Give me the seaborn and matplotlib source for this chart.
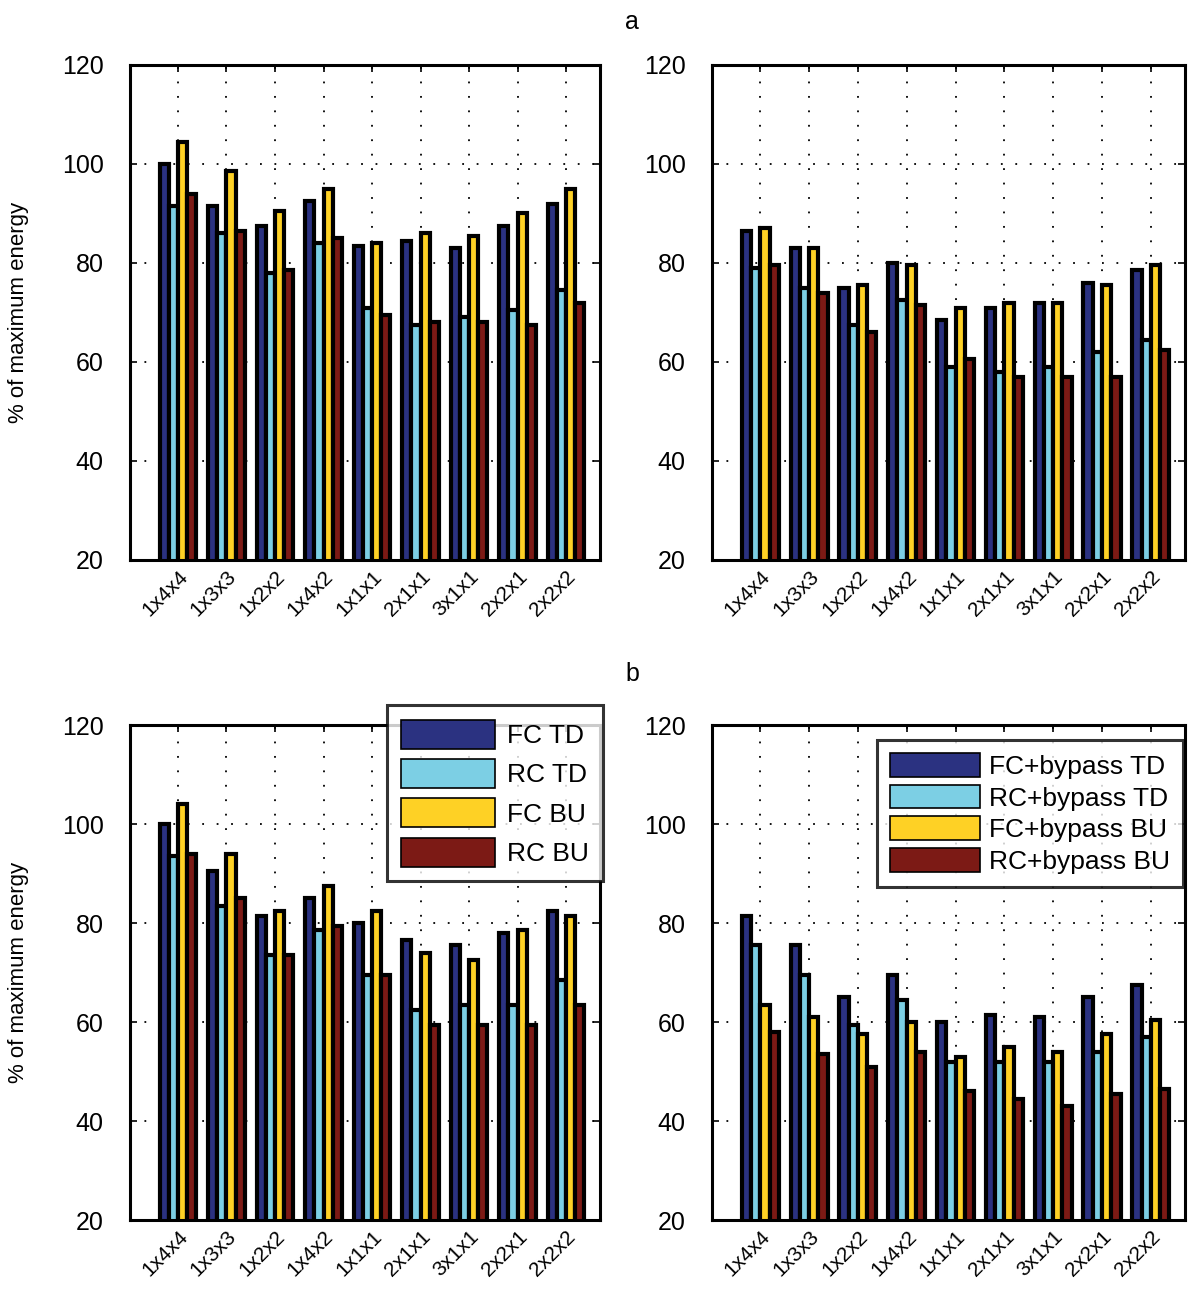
import matplotlib
matplotlib.use("Agg")
import matplotlib.pyplot as plt
import numpy as np
import pandas as pd
import seaborn as sns

configs = ["1x4x4", "1x3x3", "1x2x2", "1x4x2", "1x1x1", "2x1x1", "3x1x1", "2x2x1", "2x2x2"]

# panel a, left
a_fc_td = [100, 91.5, 87.5, 92.5, 83.5, 84.5, 83, 87.5, 92]
a_rc_td = [91.5, 86, 78, 84, 71, 67.5, 69, 70.5, 74.5]
a_fc_bu = [104.5, 98.5, 90.5, 95, 84, 86, 85.5, 90, 95]
a_rc_bu = [94, 86.5, 78.5, 85, 69.5, 68, 68, 67.5, 72]

# panel a, right
a2_fc_td = [86.5, 83, 75, 80, 68.5, 71, 72, 76, 78.5]
a2_rc_td = [79, 75, 67.5, 72.5, 59, 58, 59, 62, 64.5]
a2_fc_bu = [87, 83, 75.5, 79.5, 71, 72, 72, 75.5, 79.5]
a2_rc_bu = [79.5, 74, 66, 71.5, 60.5, 57, 57, 57, 62.5]

# panel b, left
b_fc_td = [100, 90.5, 81.5, 85, 80, 76.5, 75.5, 78, 82.5]
b_rc_td = [93.5, 83.5, 73.5, 78.5, 69.5, 62.5, 63.5, 63.5, 68.5]
b_fc_bu = [104, 94, 82.5, 87.5, 82.5, 74, 72.5, 78.5, 81.5]
b_rc_bu = [94, 85, 73.5, 79.5, 69.5, 59.5, 59.5, 59.5, 63.5]

# panel b, right
b2_fc_td = [81.5, 75.5, 65, 69.5, 60, 61.5, 61, 65, 67.5]
b2_rc_td = [75.5, 69.5, 59.5, 64.5, 52, 52, 52, 54, 57]
b2_fc_bu = [63.5, 61, 57.5, 60, 53, 55, 54, 57.5, 60.5]
b2_rc_bu = [58, 53.5, 51, 54, 46, 44.5, 43, 45.5, 46.5]

labels_plain = ["FC TD", "RC TD", "FC BU", "RC BU"]
labels_bypass = ["FC+bypass TD", "RC+bypass TD", "FC+bypass BU", "RC+bypass BU"]
colors = ["#2b3281", "#7ccfe4", "#fed125", "#7c1a15"]

sns.set_style("white")
plt.rcParams["font.family"] = ["Liberation Sans", "DejaVu Sans"]
plt.rcParams["text.color"] = "black"
plt.rcParams["axes.labelcolor"] = "black"
plt.rcParams["xtick.color"] = "black"
plt.rcParams["ytick.color"] = "black"


def make_df(series, labels):
    rows = []
    for lab, vals in zip(labels, series):
        for c, v in zip(configs, vals):
            rows.append({"config": c, "series": lab, "value": v})
    return pd.DataFrame(rows)


def draw(ax, df, labels, legend_kw=None):
    sns.barplot(data=df, x="config", y="value", hue="series", hue_order=labels,
                order=configs, palette=colors, width=0.76, edgecolor="black",
                linewidth=3.0, saturation=1, legend=False, ax=ax)
    ax.set_ylim(20, 120)
    ax.set_xlim(-0.99, 8.7)
    ax.set_yticks(np.arange(20, 121, 20))
    ax.set_xlabel("")
    ax.set_ylabel("")
    ax.set_xticks(range(len(configs)))
    ax.set_xticklabels(configs, rotation=45, ha="right", rotation_mode="anchor", fontsize=15)
    ax.tick_params(axis="y", labelsize=18, pad=19)
    ax.tick_params(axis="x", pad=5)
    ax.tick_params(direction="in", length=5, width=1.2, top=True, right=True,
                   bottom=True, left=True)
    ax.grid(True, linestyle=(0, (1, 7)), color="black", linewidth=1.3)
    ax.set_axisbelow(True)
    for s in ax.spines.values():
        s.set_visible(True)
        s.set_color("black")
        s.set_linewidth(2.2)
    if legend_kw is not None:
        leg = ax.legend(ax.containers, labels, frameon=True, fancybox=False,
                        edgecolor="black", **legend_kw)
        leg.get_frame().set_linewidth(2.2)
        leg.set_zorder(10)
        for h in leg.legend_handles:
            h.set_edgecolor("black")
            h.set_linewidth(1.2)


fig = plt.figure(figsize=(12, 12.92), dpi=100)
ax1 = fig.add_axes([0.1083, 0.5666, 0.3917, 0.3831])
ax2 = fig.add_axes([0.5933, 0.5666, 0.3942, 0.3831])
ax3 = fig.add_axes([0.1083, 0.0557, 0.3917, 0.3831])
ax4 = fig.add_axes([0.5933, 0.0557, 0.3942, 0.3831])

draw(ax1, make_df([a_fc_td, a_rc_td, a_fc_bu, a_rc_bu], labels_plain), labels_plain)
draw(ax2, make_df([a2_fc_td, a2_rc_td, a2_fc_bu, a2_rc_bu], labels_bypass), labels_bypass)
draw(ax3, make_df([b_fc_td, b_rc_td, b_fc_bu, b_rc_bu], labels_plain), labels_plain,
     legend_kw=dict(loc="upper right", bbox_to_anchor=(1.007, 1.04), fontsize=19,
                    handlelength=3.55, handleheight=1.3, labelspacing=0.4,
                    handletextpad=0.45, borderpad=0.55, borderaxespad=0))
draw(ax4, make_df([b2_fc_td, b2_rc_td, b2_fc_bu, b2_rc_bu], labels_bypass), labels_bypass,
     legend_kw=dict(loc="upper right", bbox_to_anchor=(0.996, 0.97), fontsize=19,
                    handlelength=3.4, handleheight=1.0, labelspacing=0.22,
                    handletextpad=0.35, borderpad=0.5, borderaxespad=0))

for ax in (ax1, ax3):
    ax.set_ylabel("% of maximum energy", fontsize=16)
    ax.yaxis.set_label_coords(-0.215, 0.5)

fig.text(0.527, 0.983, "a", ha="center", va="center", fontsize=18)
fig.text(0.527, 0.478, "b", ha="center", va="center", fontsize=18)

fig.savefig("out.png", dpi=100)
